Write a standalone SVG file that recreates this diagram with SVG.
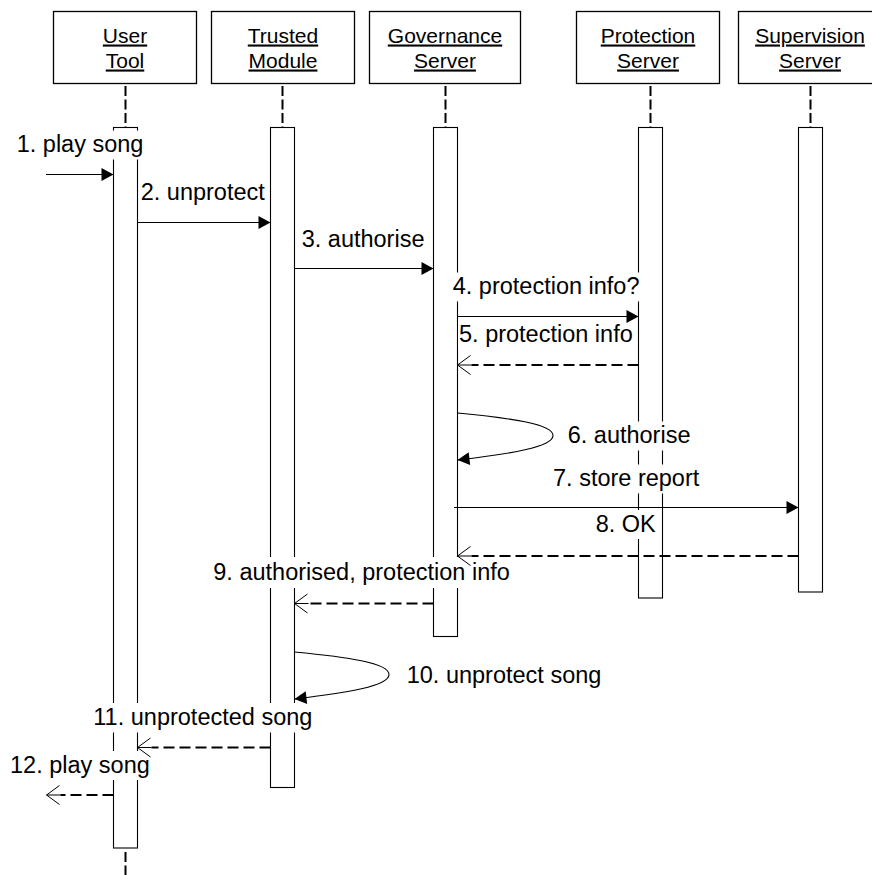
<svg xmlns="http://www.w3.org/2000/svg" width="872" height="875" viewBox="0 0 872 875">
  <style>
    .head { fill: #fff; stroke: #000; stroke-width: 1.3; }
    .htxt { font-family: "Liberation Sans", Arial, sans-serif; font-size: 21px; fill: #000; text-anchor: middle; text-decoration: underline; }
    .life { stroke: #000; stroke-width: 2; stroke-dasharray: 10 3.5; fill: none; }
    .act { fill: #fff; stroke: #000; stroke-width: 1.1; }
    .msg { stroke: #000; stroke-width: 1.1; fill: none; }
    .ret { stroke: #000; stroke-width: 2; stroke-dasharray: 11 5; fill: none; }
    .lbl { font-family: "Liberation Sans", Arial, sans-serif; font-size: 23.5px; fill: #000; }
    .bg { fill: #fff; stroke: none; }
  </style>
  <defs>
    <marker id="solidHead" markerUnits="userSpaceOnUse" markerWidth="14" markerHeight="14" refX="12" refY="6.5" orient="auto" overflow="visible">
      <path d="M0,0 L12,6.5 L0,13 Z" fill="#000" stroke="none"/>
    </marker>
    <marker id="openHead" markerUnits="userSpaceOnUse" markerWidth="16" markerHeight="20" refX="0" refY="9.5" orient="auto" overflow="visible">
      <path d="M0,9.5 L14,9.5 M1,0 L14,9.5 L1,19" fill="none" stroke="#000" stroke-width="1" stroke-dasharray="none"/>
    </marker>
  </defs>

  <rect width="872" height="875" fill="#fff"/>

  <!-- participants -->
  <g id="user-tool">
    <rect class="head" x="53.5" y="11.5" width="143" height="72"/>
    <text class="htxt" x="125" y="42.5">User</text>
    <text class="htxt" x="125" y="67.5">Tool</text>
    <line class="life" x1="125.5" y1="86" x2="125.5" y2="127.5"/>
    <rect class="act" x="113.5" y="127.5" width="24" height="720.5"/>
    <line class="life" x1="125.5" y1="852" x2="125.5" y2="875"/>
  </g>

  <g id="trusted-module">
    <rect class="head" x="211.5" y="11.5" width="143" height="72"/>
    <text class="htxt" x="283" y="42.5">Trusted</text>
    <text class="htxt" x="283" y="67.5">Module</text>
    <line class="life" x1="282.5" y1="86" x2="282.5" y2="127.5"/>
    <rect class="act" x="270.5" y="127.5" width="24" height="660"/>
  </g>

  <g id="governance-server">
    <rect class="head" x="369.5" y="11.5" width="151" height="72"/>
    <text class="htxt" x="445" y="42.5">Governance</text>
    <text class="htxt" x="445" y="67.5">Server</text>
    <line class="life" x1="445.5" y1="86" x2="445.5" y2="127.5"/>
    <rect class="act" x="433.5" y="127.5" width="24" height="509"/>
  </g>

  <g id="protection-server">
    <rect class="head" x="576.5" y="11.5" width="143" height="72"/>
    <text class="htxt" x="648" y="42.5">Protection</text>
    <text class="htxt" x="648" y="67.5">Server</text>
    <line class="life" x1="650.5" y1="86" x2="650.5" y2="127.5"/>
    <rect class="act" x="638.5" y="127.5" width="24" height="470.5"/>
  </g>

  <g id="supervision-server">
    <rect class="head" x="738.5" y="11.5" width="143" height="72"/>
    <text class="htxt" x="810" y="42.5">Supervision</text>
    <text class="htxt" x="810" y="67.5">Server</text>
    <line class="life" x1="810.5" y1="86" x2="810.5" y2="127.5"/>
    <rect class="act" x="798.5" y="127.5" width="24" height="464.5"/>
  </g>

  <!-- messages -->
  <g id="connectors">
    <!-- label backgrounds sit over the lifelines -->
    <g id="label-backgrounds">
      <rect class="bg" x="16" y="130.5" width="129" height="29"/>
      <rect class="bg" x="140" y="178.5" width="127" height="29"/>
      <rect class="bg" x="301" y="225.5" width="125" height="29"/>
      <rect class="bg" x="452" y="272.5" width="189" height="29"/>
      <rect class="bg" x="458" y="320" width="177" height="29"/>
      <rect class="bg" x="567" y="421.5" width="126" height="29"/>
      <rect class="bg" x="552" y="464.5" width="149" height="29"/>
      <rect class="bg" x="595" y="510" width="62" height="29"/>
      <rect class="bg" x="212" y="557" width="302" height="31"/>
      <rect class="bg" x="406" y="661.5" width="197" height="29"/>
      <rect class="bg" x="92" y="703" width="224" height="29.5"/>
      <rect class="bg" x="9" y="751" width="142" height="29"/>
    </g>

    <g id="msg1">
      <line class="msg" x1="46" y1="174.5" x2="113.5" y2="174.5" marker-end="url(#solidHead)"/>
      <text class="lbl" x="16.7" y="152">1. play song</text>
    </g>
    <g id="msg2">
      <line class="msg" x1="137.5" y1="222.5" x2="270.5" y2="222.5" marker-end="url(#solidHead)"/>
      <text class="lbl" x="140.7" y="200">2. unprotect</text>
    </g>
    <g id="msg3">
      <line class="msg" x1="294.5" y1="268.5" x2="433.5" y2="268.5" marker-end="url(#solidHead)"/>
      <text class="lbl" x="301.7" y="247">3. authorise</text>
    </g>
    <g id="msg4">
      <line class="msg" x1="457.5" y1="316.5" x2="638.5" y2="316.5" marker-end="url(#solidHead)"/>
      <text class="lbl" x="452.7" y="294">4. protection info?</text>
    </g>
    <g id="msg5">
      <line class="ret" x1="638.5" y1="365" x2="471.5" y2="365" marker-end="url(#openHead)"/>
      <text class="lbl" x="459" y="341.7">5. protection info</text>
    </g>
    <g id="msg6">
      <path class="msg" d="M457.5,413 C510,418 553,424 553,435.5 C553,447 510,454 457.5,460" marker-end="url(#solidHead)"/>
      <text class="lbl" x="567.7" y="443">6. authorise</text>
    </g>
    <g id="msg7">
      <line class="msg" x1="454" y1="507.5" x2="798.5" y2="507.5" marker-end="url(#solidHead)"/>
      <text class="lbl" x="553" y="486">7. store report</text>
    </g>
    <g id="msg8">
      <line class="ret" x1="798.5" y1="556" x2="471.5" y2="556" marker-end="url(#openHead)"/>
      <text class="lbl" x="595.7" y="531.7">8. OK</text>
    </g>
    <g id="msg9">
      <line class="ret" x1="433.5" y1="603.5" x2="308.5" y2="603.5" marker-end="url(#openHead)"/>
      <text class="lbl" x="213.3" y="580">9. authorised, protection info</text>
    </g>
    <g id="msg10">
      <path class="msg" d="M294.5,652 C347,657 389,663 389,674.5 C389,686 347,693 294.5,699" marker-end="url(#solidHead)"/>
      <text class="lbl" x="406.7" y="683">10. unprotect song</text>
    </g>
    <g id="msg11">
      <line class="ret" x1="270.5" y1="747.5" x2="151.5" y2="747.5" marker-end="url(#openHead)"/>
      <text class="lbl" x="93.3" y="725">11. unprotected song</text>
    </g>
    <g id="msg12">
      <line class="ret" x1="113.5" y1="795" x2="60.5" y2="795" marker-end="url(#openHead)"/>
      <text class="lbl" x="10" y="772.7">12. play song</text>
    </g>
  </g>
</svg>
